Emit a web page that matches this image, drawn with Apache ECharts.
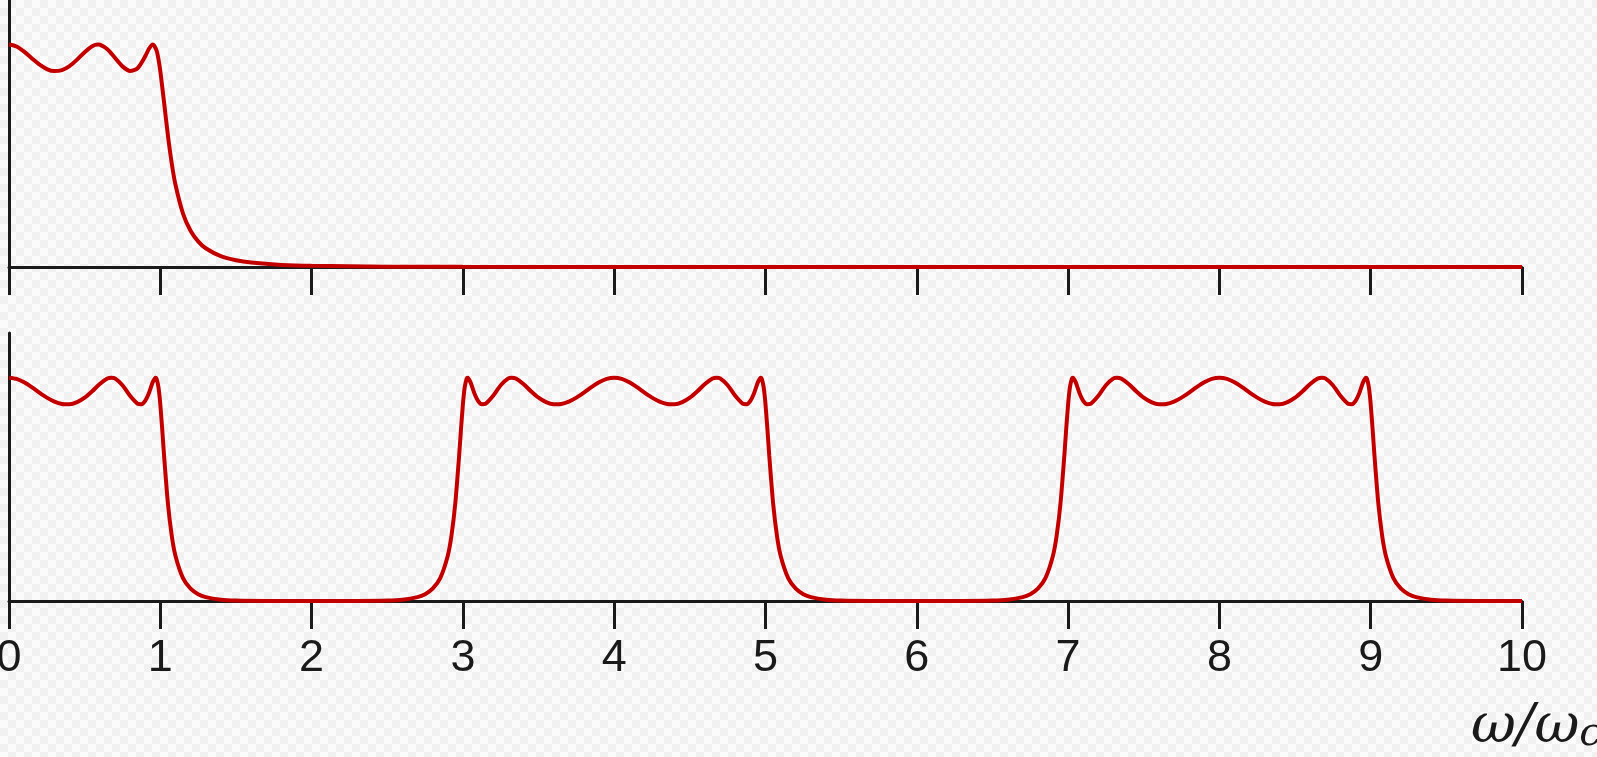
<!DOCTYPE html>
<html>
<head>
<meta charset="utf-8">
<script src="https://cdn.jsdelivr.net/npm/echarts@6/dist/echarts.min.js"></script>
<style>
html,body{margin:0;padding:0;width:1597px;height:757px;overflow:hidden;
background:repeating-conic-gradient(#f1f1f1 0% 25%, #fbfbfb 0% 50%) 0 0/16px 16px;}
#chart{width:1597px;height:757px;}
</style>
</head>
<body>
<div id="chart"></div>
<script>
// x-axis tick labels
const tickLabels = ['0','1','2','3','4','5','6','7','8','9','10'];

// Top panel: low-pass response
const lowpassX = [0,0.05,0.1,0.15,0.2,0.25,0.3,0.35,0.4,0.45,0.5,0.55,0.588,0.6,0.65,0.7,0.75,0.8,0.85,0.9,0.925,0.951,0.975,0.9875,1,1.025,1.05,1.075,1.1,1.15,1.2,1.25,1.3,1.4,1.5,1.6,1.8,2,2.5,3,4,6,8,10];
const lowpassY = [1,0.9912,0.9681,0.9384,0.9102,0.8897,0.8807,0.8851,0.9029,0.9319,0.9656,0.9926,1,0.9992,0.9791,0.9405,0.9017,0.881,0.8935,0.9466,0.9808,1,0.9736,0.9353,0.8807,0.7396,0.5936,0.4688,0.3709,0.2403,0.1628,0.1152,0.0843,0.0486,0.0302,0.0198,0.0095,0.0051,0.0015,0.0006,0.0001,0,0,0];

// Bottom panel: transformed response, [x, y] pairs per band region
const band0to2 = [[0,1],[0.05,0.9945],[0.1,0.9793],[0.15,0.9576],[0.2,0.9334],[0.25,0.9107],[0.3,0.8929],[0.35,0.8824],[0.4,0.8811],[0.45,0.8903],[0.5,0.9102],[0.55,0.9392],[0.6,0.9717],[0.65,0.9959],[0.677,1],[0.7,0.9965],[0.75,0.9663],[0.8,0.9187],[0.85,0.8834],[0.875,0.8814],[0.9,0.8964],[0.925,0.9317],[0.95,0.9799],[0.968,1],[0.975,0.9954],[0.9875,0.9588],[0.995,0.9165],[1,0.8807],[1.0125,0.7706],[1.025,0.6497],[1.05,0.4394],[1.075,0.2957],[1.1,0.2029],[1.15,0.1022],[1.2,0.0549],[1.25,0.0307],[1.3,0.0175],[1.4,0.0057],[1.5,0.0018],[1.7,0.0002],[2,0]];
const band2to4 = [[2.3,0.0002],[2.5,0.0018],[2.6,0.0057],[2.7,0.0175],[2.75,0.0307],[2.8,0.0549],[2.85,0.1022],[2.9,0.2029],[2.925,0.2957],[2.95,0.4394],[2.975,0.6497],[2.9875,0.7706],[3,0.8807],[3.005,0.9165],[3.0125,0.9588],[3.025,0.9954],[3.032,1],[3.05,0.9799],[3.075,0.9317],[3.1,0.8964],[3.125,0.8814],[3.15,0.8834],[3.2,0.9187],[3.25,0.9663],[3.3,0.9965],[3.323,1],[3.35,0.9959],[3.4,0.9717],[3.45,0.9392],[3.5,0.9102],[3.55,0.8903],[3.6,0.8811],[3.65,0.8824],[3.7,0.8929],[3.75,0.9107],[3.8,0.9334],[3.85,0.9576],[3.9,0.9793],[3.95,0.9945],[4,1]];
const band4to6 = [[4.05,0.9945],[4.1,0.9793],[4.15,0.9576],[4.2,0.9334],[4.25,0.9107],[4.3,0.8929],[4.35,0.8824],[4.4,0.8811],[4.45,0.8903],[4.5,0.9102],[4.55,0.9392],[4.6,0.9717],[4.65,0.9959],[4.677,1],[4.7,0.9965],[4.75,0.9663],[4.8,0.9187],[4.85,0.8834],[4.875,0.8814],[4.9,0.8964],[4.925,0.9317],[4.95,0.9799],[4.968,1],[4.975,0.9954],[4.9875,0.9588],[4.995,0.9165],[5,0.8807],[5.0125,0.7706],[5.025,0.6497],[5.05,0.4394],[5.075,0.2957],[5.1,0.2029],[5.15,0.1022],[5.2,0.0549],[5.25,0.0307],[5.3,0.0175],[5.4,0.0057],[5.5,0.0018],[5.7,0.0002],[6,0]];
const band6to8 = [[6.3,0.0002],[6.5,0.0018],[6.6,0.0057],[6.7,0.0175],[6.75,0.0307],[6.8,0.0549],[6.85,0.1022],[6.9,0.2029],[6.925,0.2957],[6.95,0.4394],[6.975,0.6497],[6.9875,0.7706],[7,0.8807],[7.005,0.9165],[7.0125,0.9588],[7.025,0.9954],[7.032,1],[7.05,0.9799],[7.075,0.9317],[7.1,0.8964],[7.125,0.8814],[7.15,0.8834],[7.2,0.9187],[7.25,0.9663],[7.3,0.9965],[7.323,1],[7.35,0.9959],[7.4,0.9717],[7.45,0.9392],[7.5,0.9102],[7.55,0.8903],[7.6,0.8811],[7.65,0.8824],[7.7,0.8929],[7.75,0.9107],[7.8,0.9334],[7.85,0.9576],[7.9,0.9793],[7.95,0.9945],[8,1]];
const band8to10 = [[8.05,0.9945],[8.1,0.9793],[8.15,0.9576],[8.2,0.9334],[8.25,0.9107],[8.3,0.8929],[8.35,0.8824],[8.4,0.8811],[8.45,0.8903],[8.5,0.9102],[8.55,0.9392],[8.6,0.9717],[8.65,0.9959],[8.677,1],[8.7,0.9965],[8.75,0.9663],[8.8,0.9187],[8.85,0.8834],[8.875,0.8814],[8.9,0.8964],[8.925,0.9317],[8.95,0.9799],[8.968,1],[8.975,0.9954],[8.9875,0.9588],[8.995,0.9165],[9,0.8807],[9.0125,0.7706],[9.025,0.6497],[9.05,0.4394],[9.075,0.2957],[9.1,0.2029],[9.15,0.1022],[9.2,0.0549],[9.25,0.0307],[9.3,0.0175],[9.4,0.0057],[9.5,0.0018],[9.7,0.0002],[10,0]];

const lowpassData = lowpassX.map((x, i) => [x, lowpassY[i]]);
const bandpassData = [].concat(band0to2, band2to4, band4to6, band6to8, band8to10);

const AXIS = '#1a1a1a';
const RED = '#c20000';

function xAxis(gridIndex, showLabels) {
  return {
    type: 'value', gridIndex, min: 0, max: 10, interval: 1,
    axisLine: { show: true, onZero: false, lineStyle: { color: AXIS, width: 3 } },
    axisTick: { show: true, inside: false, length: 28, lineStyle: { color: AXIS, width: 3 } },
    axisLabel: {
      show: showLabels, margin: 35, color: '#1a1a1a', fontSize: 45,
      fontFamily: '"Liberation Sans", Arial, sans-serif',
      showMinLabel: true, showMaxLabel: true, hideOverlap: false,
      formatter: v => tickLabels[Math.round(v)]
    },
    splitLine: { show: false }
  };
}
function yAxis(gridIndex) {
  return {
    type: 'value', gridIndex, min: 0, max: 1.2,
    axisLine: { show: true, lineStyle: { color: AXIS, width: 3 } },
    axisTick: { show: false }, axisLabel: { show: false }, splitLine: { show: false }
  };
}

const chart = echarts.init(document.getElementById('chart'), null, { renderer: 'canvas' });
chart.setOption({
  backgroundColor: 'transparent',
  animation: false,
  grid: [
    { left: 9, right: 75, top: 0, height: 267, outerBoundsMode: 'none', containLabel: false },
    { left: 9, right: 75, top: 333, height: 268, outerBoundsMode: 'none', containLabel: false }
  ],
  xAxis: [xAxis(0, false), xAxis(1, true)],
  yAxis: [yAxis(0), yAxis(1)],
  series: [
    { type: 'line', xAxisIndex: 0, yAxisIndex: 0, data: lowpassData, showSymbol: false,
      smooth: 0.25, lineStyle: { color: RED, width: 4 }, z: 5 },
    { type: 'line', xAxisIndex: 1, yAxisIndex: 1, data: bandpassData, showSymbol: false,
      smooth: 0.25, lineStyle: { color: RED, width: 4 }, z: 5 }
  ],
  graphic: [
    { type: 'text', left: 1471, top: 700, silent: true,
      style: { text: '{a|ω/ω}{b|c}', fill: '#1a1a1a',
        rich: {
          a: { fontSize: 55, fontStyle: 'italic', fontFamily: '"DejaVu Serif", "Liberation Serif", serif', fill: '#1a1a1a' },
          b: { fontSize: 40, fontStyle: 'italic', fontFamily: '"DejaVu Serif", "Liberation Serif", serif', fill: '#1a1a1a', verticalAlign: 'bottom' }
        } } }
  ]
});
</script>
</body>
</html>
